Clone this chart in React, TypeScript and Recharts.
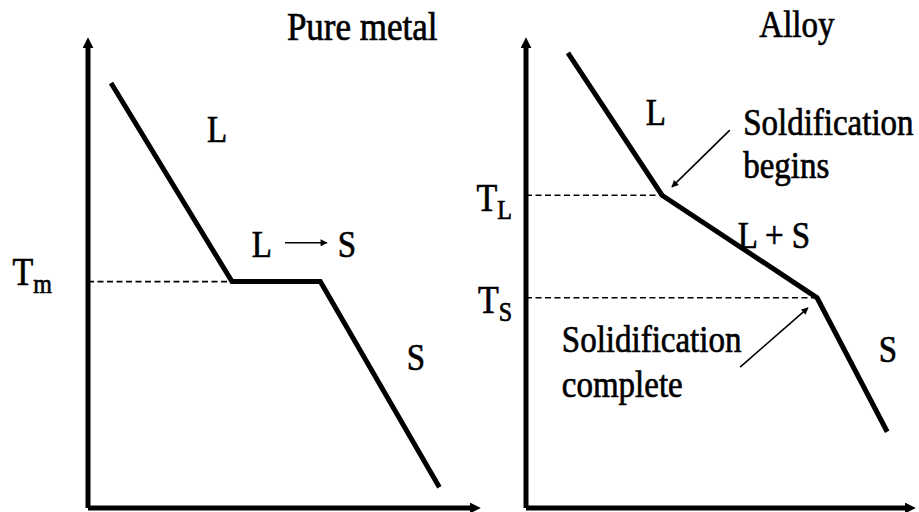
import React from 'react';
import { LineChart, Line, XAxis, YAxis, ReferenceLine, ReferenceDot } from 'recharts';

// cooling curves: time (x) vs temperature (y), both on a 0-100 scale
const pureTime = [6, 37.5, 60.5, 91.5];
const pureTemp = [92, 49, 49, 4.5];
const alloyTime = [11, 35.7, 76.4, 94.8];
const alloyTemp = [98.5, 67.7, 45.5, 16.5];

const T_MELT = 49;
const T_LIQ = 67.7;
const T_SOL = 45.5;

const pureData = pureTime.map((x, i) => ({ x, y: pureTemp[i] }));
const alloyData = alloyTime.map((x, i) => ({ x, y: alloyTemp[i] }));

const FONT = "'Liberation Serif', 'DejaVu Serif', 'Times New Roman', Times, serif";

// text notes placed in data coordinates (x, y = baseline)
const pureNotes = [
  { x: 71.4, y: 101.3, text: 'Pure metal', size: 35, anchor: 'middle' },
  { x: 33.6, y: 79.2, text: 'L', size: 33, anchor: 'middle' },
  { x: 45.3, y: 54.3, text: 'L', size: 33, anchor: 'middle' },
  { x: 67.4, y: 54.3, text: 'S', size: 33, anchor: 'middle' },
  { x: 85.4, y: 29.9, text: 'S', size: 33, anchor: 'middle' },
];
const alloyNotes = [
  { x: 71.1, y: 101.9, text: 'Alloy', size: 33, anchor: 'middle' },
  { x: 34.1, y: 82.9, text: 'L', size: 33, anchor: 'middle' },
  { x: 57.0, y: 80.7, text: 'Soldification', size: 33, anchor: 'start' },
  { x: 57.0, y: 71.4, text: 'begins', size: 33, anchor: 'start' },
  { x: 55.6, y: 56.3, text: 'L + S', size: 33, anchor: 'start' },
  { x: 9.4, y: 33.8, text: 'Solidification', size: 33, anchor: 'start' },
  { x: 9.4, y: 24.0, text: 'complete', size: 33, anchor: 'start' },
  { x: 95.0, y: 31.6, text: 'S', size: 33, anchor: 'middle' },
];

// small pointer arrows
const pureArrows = [{ from: [51.3, 57.4], to: [62.2, 57.4] }];
const alloyArrows = [
  { from: [53.5, 81.8], to: [38.3, 69.5] },
  { from: [56.2, 30.5], to: [74.0, 43.3] },
];

const tempLabels: Record<number, { main: string; sub: string; dy: number }> = {
  [T_MELT]: { main: 'T', sub: 'm', dy: 3 },
  [T_LIQ]: { main: 'T', sub: 'L', dy: 16 },
  [T_SOL]: { main: 'T', sub: 'S', dy: 15 },
};

const TEXT_SCALE_Y = 1.15;

const TempTick = (props: any) => {
  const { x, y, payload } = props;
  const lab = tempLabels[payload.value];
  if (!lab) return null;
  return (
    <g transform={`translate(${x},${y + lab.dy}) scale(1,${TEXT_SCALE_Y})`}>
      <text x={0} y={0} textAnchor="end" style={{ fontFamily: FONT }} fontSize={34} fill="#000"
        stroke="#000" strokeWidth={0.6}>
        <tspan>{lab.main}</tspan>
        <tspan fontSize={24} dy={7}>{lab.sub}</tspan>
      </text>
    </g>
  );
};

const Markers = ({ id }: { id: string }) => (
  <defs>
    <marker id={`ax-${id}`} viewBox="0 0 10 10" refX="2" refY="5" markerWidth="11" markerHeight="11"
      markerUnits="userSpaceOnUse" orient="auto-start-reverse">
      <path d="M0,0 L10,5 L0,10 z" fill="#000" />
    </marker>
    <marker id={`pt-${id}`} viewBox="0 0 10 10" refX="9" refY="5" markerWidth="8" markerHeight="7"
      markerUnits="userSpaceOnUse" orient="auto">
      <path d="M0,0 L10,5 L0,10 z" fill="#000" />
    </marker>
  </defs>
);

interface PanelProps {
  id: string;
  left: number;
  width: number;
  yAxisWidth: number;
  rightMargin: number;
  data: { x: number; y: number }[];
  temps: number[];
  tickMargin: number;
  dashed: { y: number; x: number }[];
  notes: typeof pureNotes;
  arrows: typeof pureArrows;
}

const Panel = (p: PanelProps) => (
  <div style={{ position: 'absolute', left: p.left, top: 0 }}>
    <LineChart width={p.width} height={512} data={p.data}
      margin={{ top: 46, right: p.rightMargin, bottom: 0, left: 0 }}>
      <Markers id={p.id} />
      <XAxis type="number" dataKey="x" domain={[0, 100]} allowDataOverflow tick={false} tickLine={false}
        height={4} axisLine={{ stroke: '#000', strokeWidth: 5, markerEnd: `url(#ax-${p.id})` } as any} />
      <YAxis type="number" domain={[0, 100]} allowDataOverflow ticks={p.temps} interval={0}
        tick={<TempTick />} tickLine={false} tickSize={0} tickMargin={p.tickMargin} width={p.yAxisWidth}
        axisLine={{ stroke: '#000', strokeWidth: 5, markerStart: `url(#ax-${p.id})` } as any} />
      {p.dashed.map((d, i) => (
        <ReferenceLine key={`d${i}`} segment={[{ x: 0, y: d.y }, { x: d.x, y: d.y }]}
          stroke="#000" strokeWidth={1.6} strokeDasharray="6 3.5" ifOverflow="visible" />
      ))}
      <Line type="linear" dataKey="y" stroke="#000" strokeWidth={5} dot={false}
        isAnimationActive={false} strokeLinejoin="miter" />
      {p.arrows.map((a, i) => (
        <ReferenceLine key={`a${i}`} segment={[{ x: a.from[0], y: a.from[1] }, { x: a.to[0], y: a.to[1] }]}
          ifOverflow="visible"
          shape={(s: any) => (
            <line x1={s.x1} y1={s.y1} x2={s.x2} y2={s.y2} stroke="#000" strokeWidth={1.6}
              markerEnd={`url(#pt-${p.id})`} />
          )} />
      ))}
      {p.notes.map((n, i) => (
        <ReferenceDot key={`n${i}`} x={n.x} y={n.y} r={0} ifOverflow="visible"
          shape={(s: any) => (
            <g transform={`translate(${s.cx},${s.cy}) scale(1,${TEXT_SCALE_Y})`}>
              <text x={0} y={0} textAnchor={n.anchor as any} style={{ fontFamily: FONT }}
                fontSize={n.size} fill="#000" stroke="#000" strokeWidth={0.6}>{n.text}</text>
            </g>
          )} />
      ))}
    </LineChart>
  </div>
);

export default function App() {
  return (
    <div style={{ position: 'absolute', left: 0, top: 0, width: 919, height: 512, background: '#fff' }}>
      <Panel id="pure" left={0} width={490} yAxisWidth={88} rightMargin={18} data={pureData}
        temps={[T_MELT]} tickMargin={36} dashed={[{ y: T_MELT, x: pureTime[1] }]}
        notes={pureNotes} arrows={pureArrows} />
      <Panel id="alloy" left={440} width={479} yAxisWidth={86} rightMargin={12} data={alloyData}
        temps={[T_LIQ, T_SOL]} tickMargin={14} dashed={[{ y: T_LIQ, x: alloyTime[1] }, { y: T_SOL, x: alloyTime[2] }]}
        notes={alloyNotes} arrows={alloyArrows} />
    </div>
  );
}
